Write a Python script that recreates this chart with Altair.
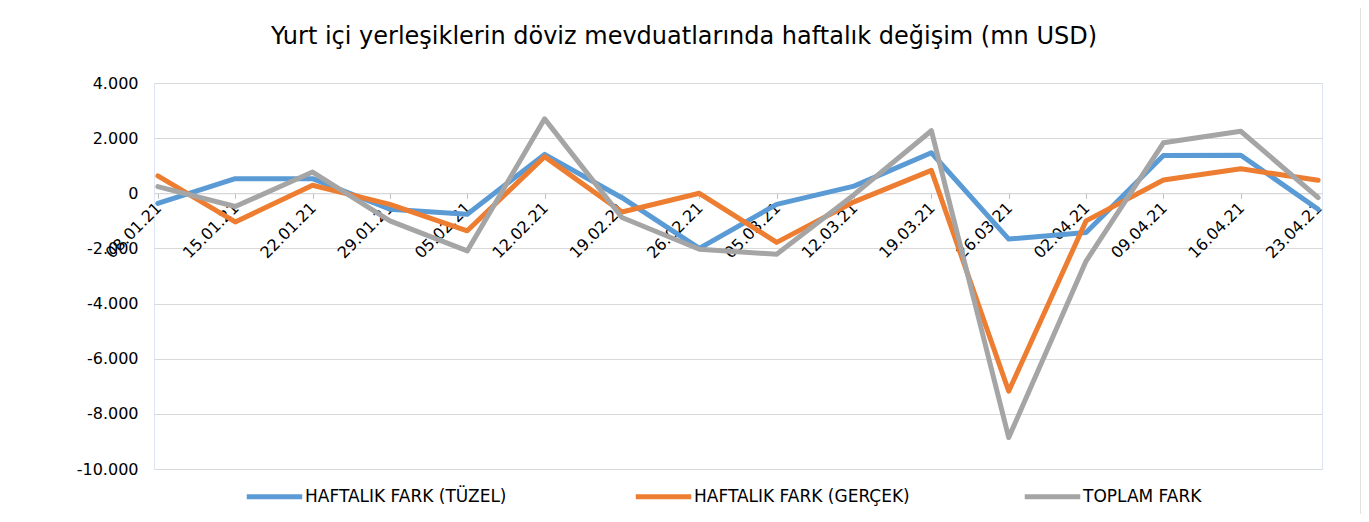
import altair as alt
import pandas as pd

dates = ["08.01.21", "15.01.21", "22.01.21", "29.01.21", "05.02.21", "12.02.21",
         "19.02.21", "26.02.21", "05.03.21", "12.03.21", "19.03.21", "26.03.21",
         "02.04.21", "09.04.21", "16.04.21", "23.04.21"]
tuzel = [-370, 530, 530, -580, -760, 1410, -160, -2000, -400, 260, 1470, -1660,
         -1420, 1370, 1380, -580]
gercek = [630, -1040, 290, -400, -1360, 1330, -680, 0, -1780, -310, 830, -7180,
          -1000, 480, 890, 470]
toplam = [240, -480, 770, -1000, -2090, 2700, -880, -2030, -2210, -50, 2270, -8860,
          -2460, 1830, 2250, -160]
series_names = ["HAFTALIK FARK (TÜZEL)", "HAFTALIK FARK (GERÇEK)", "TOPLAM FARK"]
series_colors = ["#5B9BD5", "#ED7D31", "#A5A5A5"]
y_ticks = [-10000, -8000, -6000, -4000, -2000, 0, 2000, 4000]
title_text = "Yurt içi yerleşiklerin döviz mevduatlarında haftalık değişim (mn USD)"

rows = []
for name, vals in zip(series_names, [tuzel, gercek, toplam]):
    for d, v in zip(dates, vals):
        rows.append({"tarih": d, "deger": v, "seri": name})
df = pd.DataFrame(rows)

W, H = 1168, 386
FONT = "DejaVu Sans"
zero_offset = -(H - H * 4000 / 14000)

lines = alt.Chart(df).mark_line(strokeWidth=5, strokeCap="round", strokeJoin="round").encode(
    x=alt.X("tarih:O", sort=dates,
            scale=alt.Scale(type="point", padding=0.05),
            axis=alt.Axis(title=None, labelAngle=-45, labelAlign="right", labelBaseline="top",
                          labelPadding=1, labelOffset=-5, tickSize=5, tickColor="#BFBFBF",
                          domainColor="#D9D9D9", offset=zero_offset, grid=False,
                          labelFontSize=16, labelColor="#000000", labelFont=FONT)),
    y=alt.Y("deger:Q",
            scale=alt.Scale(domain=[-10000, 4000], nice=False, zero=False),
            axis=alt.Axis(title=None, values=y_ticks, format=",d", domain=False, ticks=False,
                          gridColor="#D9D9D9", labelPadding=16, labelFontSize=16,
                          labelColor="#000000", labelFont=FONT)),
    color=alt.Color("seri:N",
                    scale=alt.Scale(domain=series_names, range=series_colors),
                    legend=alt.Legend(title=None, orient="none", legendX=90, legendY=383,
                                      direction="horizontal", columns=3, gridAlign="all",
                                      columnPadding=104, symbolType="stroke",
                                      symbolSize=3080, symbolStrokeWidth=5,
                                      labelFontSize=17, labelLimit=400, labelOffset=0,
                                      labelColor="#000000", labelFont=FONT)),
)

frame = alt.Chart(pd.DataFrame({"k": [0]})).mark_rect(
    fillOpacity=0, strokeWidth=1.5, clip=False
).encode(
    x=alt.value(-153), x2=alt.value(1207), y=alt.value(-82), y2=alt.value(436),
    stroke=alt.value("#D9D9D9"),
)

title = alt.Chart(pd.DataFrame({"t": [title_text]})).mark_text(
    fontSize=24, align="center", baseline="alphabetic", color="#000000", font=FONT
).encode(text="t:N", x=alt.value(530), y=alt.value(-39))

chart = alt.layer(frame, title, lines).properties(
    width=W, height=H,
    autosize="none",
    padding={"left": 146, "top": 75, "right": 39, "bottom": 45},
).configure(
    font=FONT,
    locale={"number": {"decimal": ",", "thousands": ".", "grouping": [3],
                       "currency": ["", ""], "minus": "-"}},
).configure_view(stroke="#DCE6F2", strokeWidth=1)

chart.save("out.html", embed_options={"renderer": "svg", "actions": False})
